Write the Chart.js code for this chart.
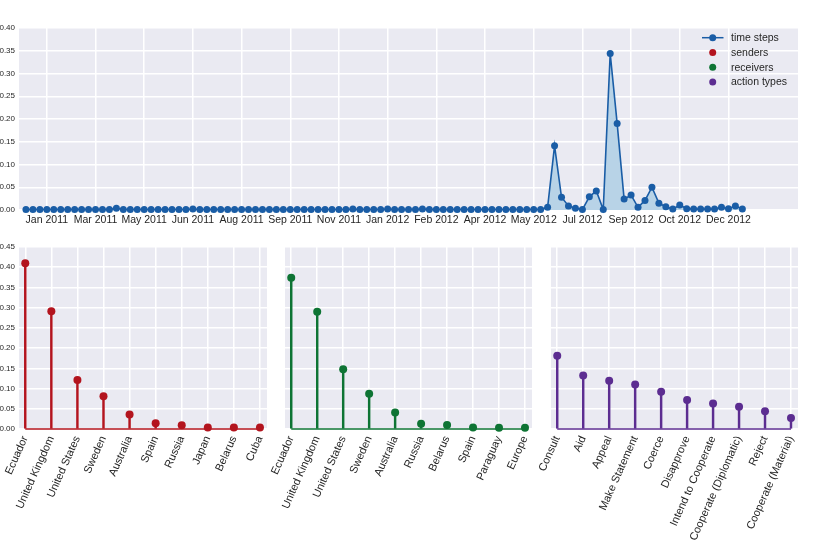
<!DOCTYPE html>
<html>
<head>
<meta charset="utf-8">
<script src="https://cdn.jsdelivr.net/npm/chart.js@4.4.1/dist/chart.umd.min.js"></script>
<style>
  html, body { margin: 0; padding: 0; background: #fff; }
  #wrap { position: relative; width: 831px; height: 540px; overflow: hidden; }
  #wrap canvas { position: absolute; left: 0; top: 0; }
</style>
</head>
<body>
<div id="wrap">
  <canvas id="timeChart" width="831" height="540"></canvas>
  <canvas id="sendersChart" width="831" height="540"></canvas>
  <canvas id="receiversChart" width="831" height="540"></canvas>
  <canvas id="actionsChart" width="831" height="540"></canvas>
</div>
<script>
// weekly share of events, Dec 2010 - Dec 2012 (104 weeks)
var weekValues = [
  0.001, 0.001, 0.001, 0.001, 0.001, 0.001, 0.001, 0.001, 0.001, 0.001,
  0.001, 0.001, 0.001, 0.004, 0.001, 0.001, 0.001, 0.001, 0.001, 0.001,
  0.001, 0.001, 0.001, 0.001, 0.002, 0.001, 0.001, 0.001, 0.001, 0.001,
  0.001, 0.001, 0.001, 0.001, 0.001, 0.001, 0.001, 0.001, 0.001, 0.001,
  0.001, 0.001, 0.001, 0.001, 0.001, 0.001, 0.001, 0.002, 0.001, 0.001,
  0.001, 0.001, 0.002, 0.001, 0.001, 0.001, 0.001, 0.002, 0.001, 0.001,
  0.001, 0.001, 0.001, 0.001, 0.001, 0.001, 0.001, 0.001, 0.001, 0.001,
  0.001, 0.001, 0.001, 0.001, 0.001, 0.006, 0.141, 0.028, 0.009, 0.004,
  0.001, 0.029, 0.042, 0.001, 0.344, 0.190, 0.024, 0.033, 0.006, 0.021,
  0.050, 0.015, 0.007, 0.002, 0.011, 0.003, 0.002, 0.002, 0.002, 0.002,
  0.006, 0.003, 0.009, 0.002
];
var monthTicks = ["Jan 2011", "Mar 2011", "May 2011", "Jun 2011", "Aug 2011",
  "Sep 2011", "Nov 2011", "Jan 2012", "Feb 2012", "Apr 2012", "May 2012",
  "Jul 2012", "Sep 2012", "Oct 2012", "Dec 2012"];
var monthTickWeeks = [3, 10, 17, 24, 31, 38, 45, 52, 59, 66, 73, 80, 87, 94, 101];

var senderNames = ["Ecuador", "United Kingdom", "United States", "Sweden", "Australia",
  "Spain", "Russia", "Japan", "Belarus", "Cuba"];
var senderShares = [0.410, 0.291, 0.121, 0.081, 0.036, 0.014, 0.009, 0.004, 0.004, 0.004];

var receiverNames = ["Ecuador", "United Kingdom", "United States", "Sweden", "Australia",
  "Russia", "Belarus", "Spain", "Paraguay", "Europe"];
var receiverShares = [0.374, 0.290, 0.148, 0.087, 0.041, 0.013, 0.010, 0.004, 0.003, 0.003];

var actionNames = ["Consult", "Aid", "Appeal", "Make Statement", "Coerce", "Disapprove",
  "Intend to Cooperate", "Cooperate (Diplomatic)", "Reject", "Cooperate (Material)"];
var actionShares = [0.181, 0.132, 0.119, 0.110, 0.092, 0.072, 0.063, 0.055, 0.044, 0.027];

var legendLabels = ["time steps", "senders", "receivers", "action types"];

var BLUE = "#1a5da6";
var RED = "#b3141e";
var GREEN = "#0e7434";
var PURPLE = "#5c2d91";
var PANEL_BG = "#eaeaf2";
var TEXT = "#262626";
var FONT = "'Liberation Sans', Arial, sans-serif";

// gray plot background like seaborn darkgrid
var panelBackground = {
  id: "panelBackground",
  beforeDraw: function (chart) {
    var a = chart.chartArea;
    var ctx = chart.ctx;
    ctx.save();
    ctx.fillStyle = PANEL_BG;
    ctx.fillRect(a.left, a.top, a.right - a.left, a.bottom - a.top);
    ctx.restore();
  }
};

// legend in the top right of the time panel, one entry for each series of the figure
var figureLegend = {
  id: "figureLegend",
  afterDraw: function (chart) {
    var ctx = chart.ctx;
    var colors = [BLUE, RED, GREEN, PURPLE];
    ctx.save();
    ctx.font = "10.5px " + FONT;
    ctx.textBaseline = "middle";
    legendLabels.forEach(function (label, i) {
      var y = 37.7 + i * 14.8;
      ctx.strokeStyle = colors[i];
      ctx.fillStyle = colors[i];
      if (i === 0) {
        ctx.lineWidth = 1.5;
        ctx.beginPath();
        ctx.moveTo(702, y);
        ctx.lineTo(723.5, y);
        ctx.stroke();
      }
      ctx.beginPath();
      ctx.arc(712.7, y, 3.5, 0, Math.PI * 2);
      ctx.fill();
      ctx.fillStyle = TEXT;
      ctx.fillText(label, 731, y + 0.5);
    });
    ctx.restore();
  }
};

new Chart(document.getElementById("timeChart"), {
  type: "line",
  data: {
    datasets: [{
      label: "time steps",
      data: weekValues.map(function (v, i) { return { x: i, y: v }; }),
      borderColor: BLUE,
      borderWidth: 1.6,
      backgroundColor: "#b8d3e7",
      fill: "origin",
      pointRadius: 3.5,
      pointBackgroundColor: BLUE,
      pointBorderWidth: 0,
      tension: 0,
      clip: false
    }]
  },
  options: {
    responsive: false,
    animation: false,
    layout: { padding: { left: 0, right: 33, top: 28, bottom: 300 } },
    plugins: { legend: { display: false }, tooltip: { enabled: false } },
    scales: {
      x: {
        type: "linear",
        min: -1,
        max: 111,
        afterBuildTicks: function (scale) {
          scale.ticks = monthTickWeeks.map(function (w) { return { value: w }; });
        },
        afterFit: function (scale) { scale.height = 30; },
        ticks: {
          autoSkip: false,
          maxRotation: 0,
          padding: 4,
          color: TEXT,
          font: { family: FONT, size: 10.5 },
          callback: function (value, index) { return monthTicks[index]; }
        },
        grid: { color: "#ffffff", lineWidth: 1.5, drawTicks: false },
        border: { display: false }
      },
      y: {
        min: 0,
        max: 0.40,
        afterFit: function (scale) { scale.width = 19; },
        ticks: {
          stepSize: 0.05,
          padding: 4,
          color: TEXT,
          font: { family: FONT, size: 8 },
          callback: function (value) { return value.toFixed(2); }
        },
        grid: { color: "#ffffff", lineWidth: 1.5, drawTicks: false },
        border: { display: false }
      }
    }
  },
  plugins: [panelBackground, figureLegend]
});

function stemChart(canvasId, names, shares, color, padLeft, padRight, showY) {
  var points = shares.map(function (v, i) { return { x: i, y: v }; });
  var baseline = shares.map(function (v, i) { return { x: i, y: 0 }; });
  return new Chart(document.getElementById(canvasId), {
    type: "bar",
    data: {
      datasets: [
        {
          type: "line",
          data: points,
          showLine: false,
          pointRadius: 4,
          pointBackgroundColor: color,
          pointBorderWidth: 0,
          clip: false,
          order: 0
        },
        {
          type: "line",
          data: baseline,
          borderColor: color,
          borderWidth: 1.6,
          pointRadius: 0,
          clip: false,
          order: 1
        },
        {
          type: "bar",
          data: points,
          backgroundColor: color,
          barThickness: 1.8,
          order: 2
        }
      ]
    },
    options: {
      responsive: false,
      animation: false,
      layout: { padding: { left: padLeft, right: padRight, top: 247, bottom: 0 } },
      plugins: { legend: { display: false }, tooltip: { enabled: false } },
      scales: {
        x: {
          type: "linear",
          min: -0.24,
          max: 9.27,
          offset: false,
          afterBuildTicks: function (scale) {
            scale.ticks = names.map(function (n, i) { return { value: i }; });
          },
          afterFit: function (scale) { scale.height = 111; },
          ticks: {
            autoSkip: false,
            minRotation: 66,
            maxRotation: 66,
            padding: 5,
            color: TEXT,
            font: { family: FONT, size: 11 },
            callback: function (value, index) { return names[index]; }
          },
          grid: { color: "#ffffff", lineWidth: 1.5, drawTicks: false, offset: false },
          border: { display: false }
        },
        y: {
          min: 0,
          max: 0.45,
          afterFit: function (scale) { scale.width = showY ? 19 : 0; },
          ticks: {
            display: showY,
            stepSize: 0.05,
            padding: 4,
            color: TEXT,
            font: { family: FONT, size: 8 },
            callback: function (value) { return value.toFixed(2); }
          },
          grid: { color: "#ffffff", lineWidth: 1.5, drawTicks: false },
          border: { display: false }
        }
      }
    },
    plugins: [panelBackground]
  });
}

stemChart("sendersChart", senderNames, senderShares, RED, 0, 564, true);
stemChart("receiversChart", receiverNames, receiverShares, GREEN, 285, 299, false);
stemChart("actionsChart", actionNames, actionShares, PURPLE, 551, 33, false);
</script>
</body>
</html>
